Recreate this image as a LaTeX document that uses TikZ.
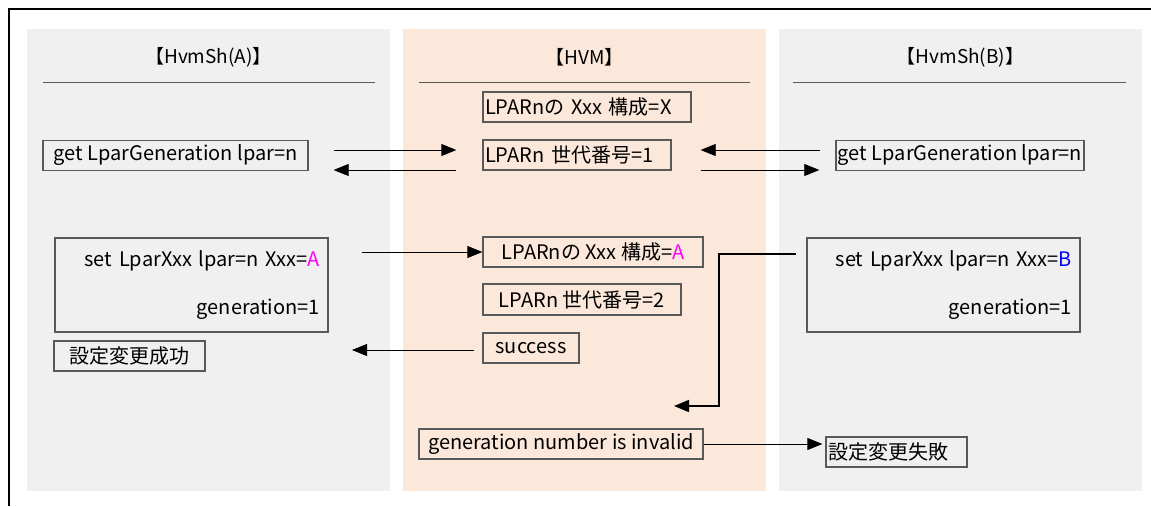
\documentclass[tikz,border=0pt]{standalone}
\usepackage{fontspec}
\setmainfont{Noto Sans CJK JP}
\usetikzlibrary{arrows.meta}
\definecolor{shbg}{HTML}{F0F0F0}
\definecolor{hvmbg}{HTML}{FCE8DA}
\definecolor{magA}{HTML}{FF00FF}
\definecolor{bluB}{HTML}{0000FF}
\tikzset{
  box/.style={draw=black!65, line width=1.3pt, minimum height=30pt, inner xsep=2pt, inner ysep=0pt, align=center},
  setbox/.style={box, minimum height=94pt, inner xsep=8pt, text width=257pt, align=right},
  msg/.style={-{Triangle[length=15pt,width=12pt]}, line width=0.8pt},
  head/.style={inner sep=0pt, font=\fontsize{19}{22}\selectfont},
  rule/.style={black!65, line width=1pt},
}
\begin{document}
\begin{tikzpicture}[x=1pt, y=-1pt, font=\fontsize{20}{24}\selectfont]
    \useasboundingbox (0,0) rectangle (1151,506);
    % Outer frame
    \draw[line width=2pt] (1151,8.5) -- (8.5,8.5) -- (8.5,506);
    % Panels
    \fill[shbg] (27,29) rectangle (390,491);
    \fill[hvmbg] (403,29) rectangle (766,491);
    \fill[shbg] (779,29) rectangle (1142,491);
    % Headers
    \node[head] (hdrA) at (208.5,57) {【HvmSh(A)】};
    \node[head] (hdrH) at (584.5,57) {【HVM】};
    \node[head] (hdrB) at (960.5,57) {【HvmSh(B)】};
    \draw[rule] (43,82) -- (375,82);
    \draw[rule] (419,82) -- (750,82);
    \draw[rule] (793,82) -- (1126,82);
    % HVM state
    \node[box, text width=204pt, align=left] (cfgX) at (587,107) {LPARnの Xxx 構成=X};
    \node[box, text width=184pt, align=left] (genOne) at (577,155) {LPARn 世代番号=1};
    % get generation
    \node[box, minimum width=265pt] (getA) at (175.5,155.5) {get LparGeneration lpar=n};
    \node[box, minimum width=244pt] (getB) at (960,155.5) {get LparGeneration lpar=n};
    \draw[msg] ([xshift=25pt,yshift=5.5pt]getA.east) -- ([xshift=-26pt,yshift=5pt]genOne.west);
    \draw[msg] ([xshift=-26pt,yshift=-15pt]genOne.west) -- ([xshift=25pt,yshift=-14.5pt]getA.east);
    \draw[msg] ([xshift=-15pt,yshift=5.5pt]getB.west) -- ([xshift=29pt,yshift=5pt]genOne.east);
    \draw[msg] ([xshift=29pt,yshift=-15pt]genOne.east) -- ([xshift=-16pt,yshift=-14.5pt]getB.west);
    % set requests
    \node[setbox] (setA) at (191.5,285) {\mbox{set LparXxx lpar=n Xxx={\color{magA}A}}\\[24pt]generation=1\hspace*{13pt}};
    \node[setbox] (setB) at (943.5,285) {\mbox{set LparXxx lpar=n Xxx={\color{bluB}B}}\\[24pt]generation=1\hspace*{14pt}};
    \node[box, minimum width=220pt] (cfgA) at (593,252) {LPARnの Xxx 構成={\color{magA}A}};
    \node[box, minimum width=198pt, minimum height=31pt] (genTwo) at (582,299.5) {LPARn 世代番号=2};
    \node[box, minimum width=96pt] (success) at (531,348) {success};
    \node[box, minimum width=151pt] (okA) at (129.5,356) {設定変更成功};
    \draw[msg] ([xshift=33pt,yshift=33pt]setA.east) -- (cfgA.west);
    \coordinate (okTip) at (352,350);
    \draw[msg] ([xshift=-8pt,yshift=-2pt]success.west) -- (okTip);
    % rejected request
    \node[box, minimum width=284pt] (invalid) at (561,444) {generation number is invalid};
    \node[box, text width=137pt, align=left] (ngB) at (896.5,452) {設定変更失敗};
    \coordinate (ngBend) at (719,406);
    \coordinate (ngTip) at (674,406);
    \draw[msg, line width=1.6pt] ([xshift=-10pt,yshift=31pt]setB.west) -| (ngBend) -- (ngTip);
    \draw[msg, shorten >=3pt] (invalid.east) -- (invalid.east -| ngB.west);
\end{tikzpicture}
\end{document}
